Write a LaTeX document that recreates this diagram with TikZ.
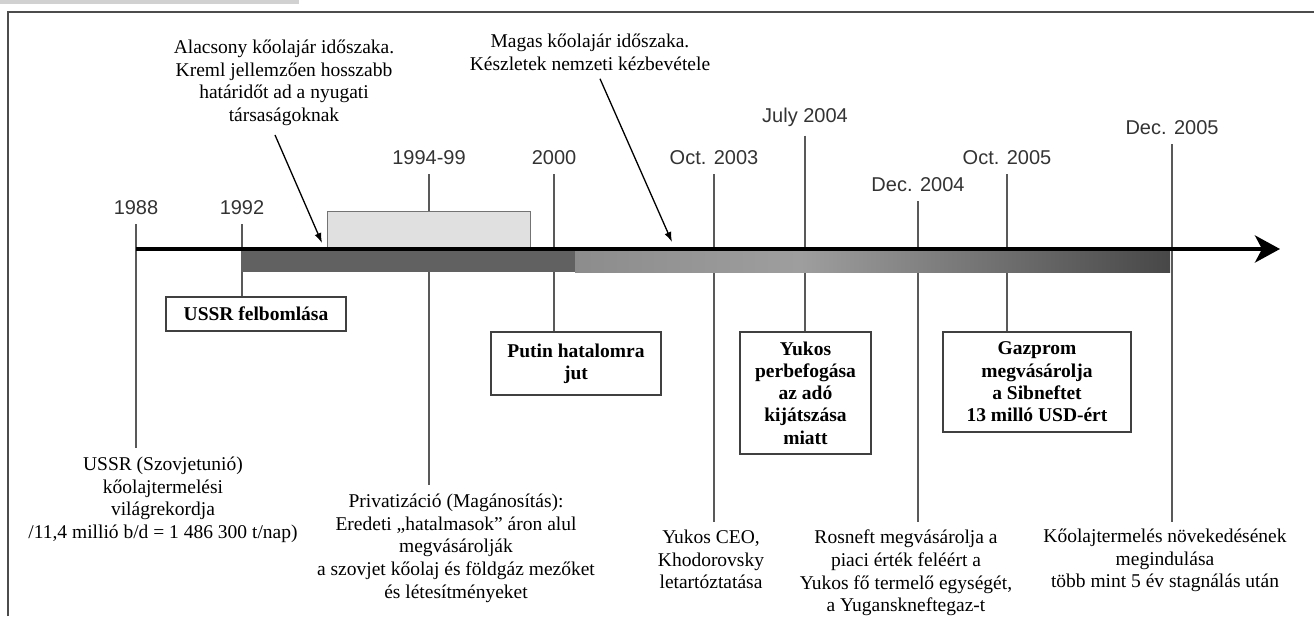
\documentclass[tikz,border=0pt]{standalone}
\usepackage{fontspec}
\setmainfont{Liberation Serif}
\setsansfont{Liberation Sans}
\usetikzlibrary{arrows.meta}

\begin{document}
\begin{tikzpicture}[x=1pt, y=-1pt,
    year/.style={font=\sffamily\fontsize{20}{24}\selectfont, text=black!80, inner sep=6pt},
    note/.style={font=\fontsize{19.5}{22.6}\selectfont, align=center, inner sep=0pt, anchor=north},
    evbox/.style={draw=black!75, line width=1.4pt, fill=white, align=center,
      font=\bfseries\fontsize{19.5}{22.3}\selectfont, inner sep=0pt},
    tick/.style={draw=black!65, line width=1.1pt, shorten <=3pt},
    pointer/.style={line width=1.3pt, -{Latex[length=10pt,width=7pt]}}]
  \useasboundingbox (0,0) rectangle (1314,616);
  \fill[black!18] (0,0) rectangle (299,3.5);
  \draw[black!70, line width=1.3pt] (8,616) -- (8,12) -- (1314,12);
  % years
  \node[year] (y1988) at (136,208) {1988};
  \node[year] (y1992) at (242,208) {1992};
  \node[year] (y9499) at (429,158) {1994-99};
  \node[year] (y2000) at (554,158) {2000};
  \node[year] (y2003) at (714,158) {Oct. 2003};
  \node[year] (y2004a) at (805,117) {July 2004};
  \node[year] (y2004b) at (918,185) {Dec. 2004};
  \node[year] (y2005a) at (1007,158) {Oct. 2005};
  \node[year] (y2005b) at (1172,128) {Dec. 2005};
  % notes above
  \node[note] (lownote) at (284,40) {Alacsony kőolajár időszaka.\\Kreml jellemzően hosszabb\\határidőt ad a nyugati\\társaságoknak};
  \node[note] (highnote) at (590,34) {Magas kőolajár időszaka.\\Készletek nemzeti kézbevétele};
  % boxes
  \node[evbox, minimum width=180pt, minimum height=34pt] (felb) at (256,314) {USSR felbomlása};
  \node[evbox, minimum width=170pt, minimum height=63pt] (putin) at (576,363.5) {Putin hatalomra\\jut};
  \node[evbox, minimum width=131pt, minimum height=122pt] (yukos) at (805.5,393) {Yukos\\perbefogása\\az adó\\kijátszása\\miatt};
  \node[evbox, minimum width=188pt, minimum height=100pt] (gazprom) at (1037,382) {Gazprom\\megvásárolja\\a Sibneftet\\13 milló USD-ért};
  % notes below
  \node[note] (ussrtxt) at (163,457) {USSR (Szovjetunió)\\kőolajtermelési\\világrekordja\\/11,4 millió b/d = 1 486 300 t/nap)};
  \node[note] (privtxt) at (456,494) {Privatizáció (Magánosítás):\\Eredeti „hatalmasok” áron alul\\megvásárolják\\a szovjet kőolaj és földgáz mezőket\\és létesítményeket};
  \node[note] (ceotxt) at (711,530) {Yukos CEO,\\Khodorovsky\\letartóztatása};
  \node[note] (rostxt) at (906,530) {Rosneft megvásárolja a\\piaci érték feléért a\\Yukos fő termelő egységét,\\a Yuganskneftegaz-t};
  \node[note] (kotxt) at (1165,529) {Kőolajtermelés növekedésének\\megindulása\\több mint 5 év stagnálás után};
  \begin{scope}[tick]
    \draw[shorten >=9pt] (y1988) -- (y1988 |- ussrtxt.north);
    \draw (y1992) -- (y1992 |- felb.north);
    \draw[shorten >=9pt] (y9499) -- (y9499 |- privtxt.north);
    \draw (y2000) -- (y2000 |- putin.north);
    \draw[shorten >=8pt] (y2003) -- (y2003 |- ceotxt.north);
    \draw (y2004a) -- (y2004a |- yukos.north);
    \draw[shorten >=8pt] (y2004b) -- (y2004b |- rostxt.north);
    \draw (y2005a) -- (y2005a |- gazprom.north);
    \draw[shorten >=7pt] (y2005b) -- (y2005b |- kotxt.north);
  \end{scope}
  % time bar
  \node[draw=black!55, line width=1pt, fill=black!12, minimum width=203pt, minimum height=37pt, inner sep=0pt] (era) at (428.5,229.5) {};
  \fill[black!62] (241,251) rectangle (575,272);
  \shade[left color=black!45, right color=black!38] (575,251) rectangle (800,272);
  \shade[left color=black!38, right color=black!72] (800,251) rectangle (1170,272);
  \coordinate (axstart) at (136,249);
  \coordinate (axend) at (1280,249);
  \draw[line width=4pt, -{Stealth[length=25pt,width=27pt,inset=7pt]}] (axstart) -- (axend);
  \coordinate (lowtip) at (322,243);
  \coordinate (hightip) at (672,242);
  \draw[pointer] ([shift={(-9,9)}]lownote.south) -- (lowtip);
  \draw[pointer] ([shift={(10,8)}]highnote.south) -- (hightip);
\end{tikzpicture}
\end{document}
